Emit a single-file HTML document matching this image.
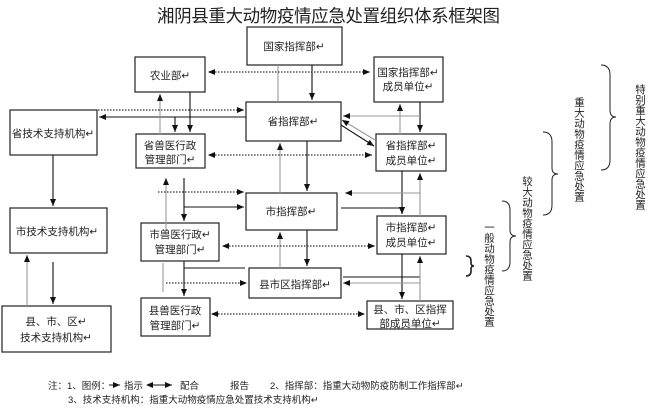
<!DOCTYPE html>
<html><head><meta charset="utf-8"><style>
body{margin:0;background:#fff}
svg text{font-family:"Liberation Sans","Noto Sans CJK SC",sans-serif;fill:#222}
</style></head><body>
<svg width="650" height="407" viewBox="0 0 650 407" xmlns="http://www.w3.org/2000/svg">
<defs>
<marker id="a" markerWidth="8" markerHeight="8" refX="7" refY="4" orient="auto" markerUnits="userSpaceOnUse"><path d="M0,1 L7,4 L0,7 z" fill="#111"/></marker>
<marker id="s" markerWidth="8" markerHeight="8" refX="1" refY="4" orient="auto" markerUnits="userSpaceOnUse"><path d="M7,1 L0,4 L7,7 z" fill="#111"/></marker>
</defs>
<text x="157" y="22" font-size="17.5" textLength="343">湘阴县重大动物疫情应急处置组织体系框架图</text>
<g fill="none" stroke="#222" stroke-width="1.2">
<rect x="247" y="27" width="95" height="38"/>
<rect x="135" y="57" width="70" height="35"/>
<rect x="374" y="57" width="69" height="45"/>
<rect x="10" y="110" width="87" height="45"/>
<rect x="246" y="102" width="95" height="39"/>
<rect x="136" y="134" width="69" height="34"/>
<rect x="376" y="134" width="70" height="37"/>
<rect x="246" y="193" width="91" height="37"/>
<rect x="10" y="208" width="97" height="45"/>
<rect x="141" y="223" width="78" height="38"/>
<rect x="377" y="216" width="69" height="38"/>
<rect x="249" y="268" width="92" height="30"/>
<rect x="367" y="301" width="86" height="28"/>
<rect x="141" y="298" width="69" height="38"/>
<rect x="2" y="306" width="109" height="46"/>
</g>
<g font-size="10.5" text-anchor="middle">
<text x="294" y="50">国家指挥部↵</text>
<text x="170" y="79">农业部↵</text>
<text x="408" y="76">国家指挥部↵</text><text x="408" y="90">成员单位↵</text>
<text x="53" y="137">省技术支持机构↵</text>
<text x="293" y="125">省指挥部↵</text>
<text x="170" y="149">省兽医行政</text><text x="170" y="163">管理部门↵</text>
<text x="411" y="149">省指挥部↵</text><text x="411" y="164">成员单位↵</text>
<text x="291" y="215">市指挥部↵</text>
<text x="57" y="235">市技术支持机构↵</text>
<text x="180" y="238">市兽医行政↵</text><text x="180" y="253">管理部门↵</text>
<text x="411" y="231">市指挥部↵</text><text x="411" y="246">成员单位↵</text>
<text x="295" y="288">县市区指挥部↵</text>
<text x="410" y="313">县、市、区指挥</text><text x="410" y="327">部成员单位↵</text>
<text x="175" y="314">县兽医行政</text><text x="175" y="329">管理部门↵</text>
<text x="56" y="325">县、市、区↵</text><text x="56" y="341">技术支持机构↵</text>
</g>
<g stroke="#111" stroke-width="1.1" fill="none" marker-end="url(#a)">
<line x1="312" y1="65" x2="312" y2="100"/>
<line x1="190" y1="92" x2="190" y2="132"/>
<line x1="246" y1="117" x2="99" y2="117"/>
<line x1="175" y1="117" x2="175" y2="132"/>
<line x1="420" y1="102" x2="420" y2="132"/>
<line x1="341" y1="125" x2="374" y2="146"/>
<line x1="307" y1="141" x2="307" y2="191"/>
<line x1="53" y1="155" x2="53" y2="206"/>
<line x1="53" y1="262" x2="53" y2="304"/>
<line x1="184" y1="178" x2="184" y2="221"/>
<line x1="184" y1="207" x2="244" y2="207"/>
<polyline points="341,208 402,208 402,214"/>
<line x1="402" y1="171" x2="402" y2="214"/>
<line x1="307" y1="230" x2="307" y2="266"/>
<line x1="184" y1="261" x2="184" y2="296"/>
<line x1="402" y1="254" x2="402" y2="299"/>
</g>
<g stroke="#111" stroke-width="1.1" fill="none">
<line x1="184" y1="268" x2="245" y2="268"/>
<line x1="343" y1="277" x2="420" y2="277"/>
</g>
<g stroke="#999" stroke-width="1.1" fill="none" marker-end="url(#a)">
<line x1="160" y1="134" x2="160" y2="94"/>
<line x1="400" y1="134" x2="400" y2="104"/>
<line x1="420" y1="116" x2="343" y2="116"/>
<line x1="375" y1="140" x2="342" y2="120"/>
<line x1="280" y1="193" x2="280" y2="143"/>
<line x1="27" y1="306" x2="27" y2="255"/>
<line x1="166" y1="230" x2="166" y2="178"/>
<line x1="420" y1="193" x2="345" y2="193"/>
<line x1="420" y1="216" x2="420" y2="173"/>
<line x1="280" y1="268" x2="280" y2="232"/>
<line x1="420" y1="283" x2="343" y2="283"/>
<line x1="420" y1="301" x2="420" y2="256"/>
</g>
<g stroke="#999" stroke-width="1.1" fill="none">
<line x1="278" y1="65" x2="278" y2="102"/>
<line x1="163" y1="263" x2="163" y2="292"/>
</g>
<g stroke="#333" stroke-width="1.2" stroke-dasharray="1.5,1.5" fill="none">
<line x1="209" y1="72" x2="370" y2="72" marker-start="url(#s)" marker-end="url(#a)"/>
<line x1="98" y1="110" x2="244" y2="110" marker-end="url(#a)"/>
<line x1="209" y1="155" x2="372" y2="155" marker-start="url(#s)" marker-end="url(#a)"/>
<line x1="158" y1="192" x2="244" y2="192" marker-end="url(#a)"/>
<line x1="223" y1="246" x2="375" y2="246" marker-start="url(#s)" marker-end="url(#a)"/>
<line x1="166" y1="283" x2="247" y2="283" marker-end="url(#a)"/>
<line x1="212" y1="314" x2="365" y2="314" marker-start="url(#s)" marker-end="url(#a)"/>
</g>
<g stroke="#222" stroke-width="1" fill="none">
<path d="M601,65 Q610,65 610,75 L610,110 Q610,117 616,117 Q610,117 610,124 L610,160 Q610,170 601,170"/>
<path d="M543,132 Q552,132 552,142 L552,168 Q552,174 558,174 Q552,174 552,180 L552,205 Q552,215 543,215"/>
<path d="M502,201 Q510,201 510,210 L510,230 Q510,236 516,236 Q510,236 510,242 L510,262 Q510,271 502,271"/>
<path d="M466,256 Q471,256 471,261 L471,263 Q471,266 474,266 Q471,266 471,269 L471,271 Q471,276 466,276" stroke-width="1.6"/>
</g>
<g font-size="10.5">
<text x="640" y="84" writing-mode="tb">特别重大动物疫情应急处置</text>
<text x="579" y="97" writing-mode="tb">重大动物疫情应急处置</text>
<text x="527" y="176" writing-mode="tb">较大动物疫情应急处置</text>
<text x="489" y="222" writing-mode="tb">一般动物疫情应急处置</text>
</g>
<g font-size="9.5">
<text x="48" y="389">注：1、图例：</text>
<line x1="109" y1="385" x2="120" y2="385" stroke="#111" marker-end="url(#a)"/>
<text x="124" y="389">指示</text>
<line x1="147" y1="385" x2="172" y2="385" stroke="#111" marker-start="url(#s)" marker-end="url(#a)"/>
<text x="180" y="389">配合</text>
<text x="230" y="389">报告</text>
<text x="270" y="389">2、指挥部：指重大动物防疫防制工作指挥部↵</text>
<text x="68" y="403">3、技术支持机构：指重大动物疫情应急处置技术支持机构↵</text>
</g>
</svg>
</body></html>
